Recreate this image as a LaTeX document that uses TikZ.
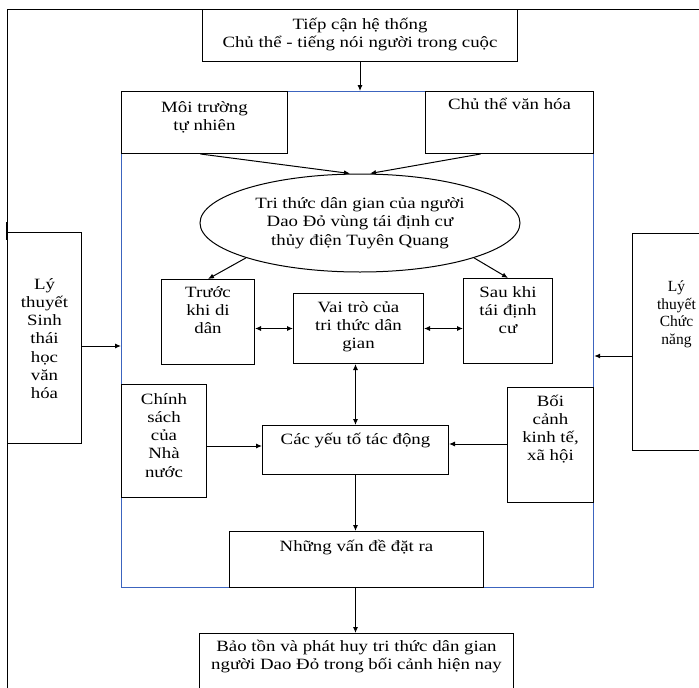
\documentclass[tikz,border=0pt]{standalone}
\usepackage{fontspec}
\setmainfont[FakeStretch=1.2]{Liberation Serif}
\newfontfamily\hep{Liberation Serif}
\usetikzlibrary{shapes.geometric,arrows.meta}

\definecolor{xanhkhung}{RGB}{60,100,190}
\newcommand{\noidung}[4][6pt]{\parbox[c][#3][t]{#2}{\centering\vspace*{#1}\strut #4}}

\tikzset{
  hop/.style={draw, line width=1pt, inner sep=0pt, anchor=north west},
  muiten/.style={-{Latex[length=6pt,width=5pt]}, line width=1pt},
  haimui/.style={{Latex[length=6pt,width=5pt]}-{Latex[length=6pt,width=5pt]}, line width=1pt}
}

\begin{document}
\begin{tikzpicture}[x=1pt, y=-1pt, font=\fontsize{15.7}{18.3}\selectfont]
\useasboundingbox (0,0) rectangle (699,688);
\draw[line width=1pt] (7,700) -- (7,9) -- (699,9);
\draw[line width=2.5pt] (7,222) -- (7,240);
\node[draw=xanhkhung, line width=1.2pt, inner sep=0pt, anchor=north west,
      minimum width=472pt, minimum height=496pt] (khung) at (121,91) {};

\node[hop] (tiepcan) at (202,9) {\noidung[6.7pt]{315pt}{52pt}{Tiếp cận hệ thống\\Chủ thể - tiếng nói người trong cuộc}};
\node[hop] (moitruong) at (121,91) {\noidung[7.7pt]{166pt}{62pt}{Môi trường\\tự nhiên}};
\node[hop] (chuthe) at (425,91) {\noidung[5.5pt]{168pt}{62pt}{Chủ thể văn hóa}};
\node[draw, ellipse, line width=1pt, inner sep=0pt, minimum width=320pt, minimum height=98pt, align=center]
  (trithuc) at (360,223) {Tri thức dân gian của người\\Dao Đỏ vùng tái định cư\\thủy điện Tuyên Quang};
\node[hop] (truoc) at (161,279) {\noidung[4.7pt]{93pt}{85pt}{Trước\\khi di\\dân}};
\node[hop] (vaitro) at (293,293) {\noidung[5.7pt]{130pt}{70pt}{Vai trò của\\tri thức dân\\gian}};
\node[hop] (sau) at (463,278) {\noidung[5.7pt]{89pt}{85pt}{Sau khi\\tái định\\cư}};
\node[hop] (chinhsach) at (121,384) {\noidung[6.7pt]{85pt}{113pt}{Chính\\sách\\của\\Nhà\\nước}};
\node[hop] (yeuto) at (262,425) {\noidung[5.7pt]{186pt}{49pt}{Các yếu tố tác động}};
\node[hop] (boicanh) at (507,387) {\noidung[5.7pt]{86pt}{115pt}{Bối\\cảnh\\kinh tế,\\xã hội}};
\node[hop] (vande) at (229,531) {\noidung[6.7pt]{254pt}{56pt}{Những vấn đề đặt ra}};
\node[hop] (baoton) at (199,633) {\noidung[4.7pt]{314pt}{70pt}{Bảo tồn và phát huy tri thức dân gian\\người Dao Đỏ trong bối cảnh hiện nay}};
\node[hop] (sinhthai) at (7,232) {\noidung[43.7pt]{74pt}{211pt}{Lý\\thuyết\\Sinh\\thái\\học\\văn\\hóa}};
\node[hop, font=\hep\fontsize{15.5}{17.7}\selectfont] (chucnang) at (632,233) {\noidung[45.5pt]{88pt}{217pt}{Lý\\thuyết\\Chức\\năng}};

\draw[muiten] (tiepcan.south) -- (tiepcan.south |- khung.north);
\draw[muiten] ([xshift=-4pt]moitruong.south) -- ([xshift=-10pt]trithuc.north);
\draw[muiten] ([xshift=-29pt]chuthe.south) -- ([xshift=10pt]trithuc.north);
\draw[muiten] (trithuc.197) -- (truoc.north);
\draw[muiten] (trithuc.-17) -- (sau.north);
\draw[haimui] (truoc.east |- vaitro.west) -- (vaitro.west);
\draw[haimui] (vaitro.east) -- (sau.west |- vaitro.east);
\draw[haimui] (yeuto.north |- vaitro.south) -- (yeuto.north);
\draw[muiten] (chinhsach.east |- 0,446) -- (yeuto.west |- 0,446);
\draw[muiten] (boicanh.west |- 0,444) -- (yeuto.east |- 0,444);
\draw[muiten] (yeuto.south) -- (yeuto.south |- vande.north);
\draw[muiten] (yeuto.south |- vande.south) -- (yeuto.south |- baoton.north);
\draw[muiten] (sinhthai.east |- 0,346) -- (khung.west |- 0,346);
\draw[muiten] (chucnang.west |- 0,356) -- (khung.east |- 0,356);
\end{tikzpicture}
\end{document}
